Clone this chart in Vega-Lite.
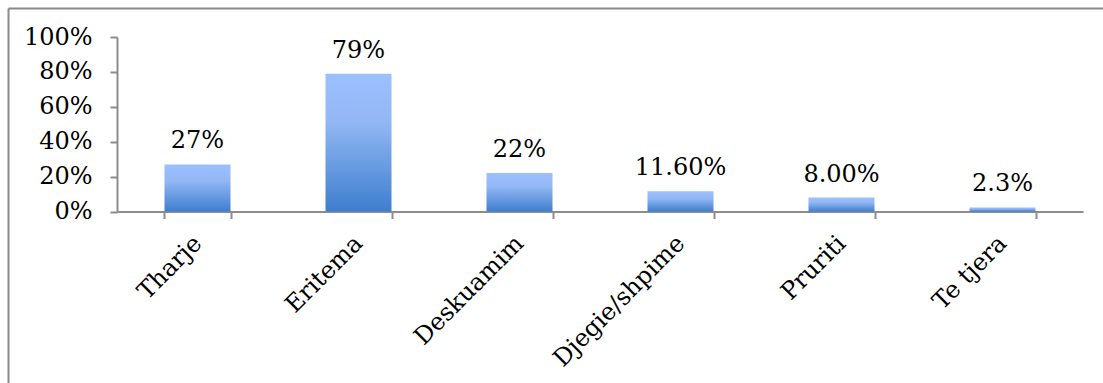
{
  "$schema": "https://vega.github.io/schema/vega-lite/v6.json",
  "width": 1095,
  "height": 375,
  "autosize": {"type": "none"},
  "padding": {"left": 8, "top": 8, "right": 0, "bottom": 0},
  "background": "white",
  "config": {
    "view": {"stroke": null},
    "font": "DejaVu Serif"
  },
  "data": {
    "values": [
      {"simptoma": "Tharje", "pct": 0.27, "label": "27%"},
      {"simptoma": "Eritema", "pct": 0.79, "label": "79%"},
      {"simptoma": "Deskuamim", "pct": 0.22, "label": "22%"},
      {"simptoma": "Djegie/shpime", "pct": 0.116, "label": "11.60%"},
      {"simptoma": "Pruriti", "pct": 0.08, "label": "8.00%"},
      {"simptoma": "Te tjera", "pct": 0.023, "label": "2.3%"}
    ]
  },
  "resolve": {
    "scale": {"x": "independent", "y": "independent"},
    "axis": {"x": "independent", "y": "independent"}
  },
  "layer": [
    {
      "layer": [
        {
          "mark": {
            "type": "bar",
            "color": {
              "gradient": "linear",
              "x1": 0, "y1": 0, "x2": 0, "y2": 1,
              "stops": [
                {"offset": 0, "color": "#9cc0fd"},
                {"offset": 0.35, "color": "#92b7f4"},
                {"offset": 1, "color": "#3e7ece"}
              ]
            }
          },
          "encoding": {
            "x": {
              "field": "simptoma",
              "type": "nominal",
              "sort": null,
              "scale": {"range": [109, 1075], "paddingInner": 0.59, "paddingOuter": 0.295},
              "axis": {
                "orient": "bottom",
                "offset": -171.5,
                "title": null,
                "tickBand": "extent",
                "labelAngle": -45,
                "labelAlign": "right",
                "labelBaseline": "middle",
                "labelPadding": 21,
                "labelFont": "DejaVu Serif",
                "labelFontSize": 24,
                "labelColor": "#000000",
                "domainColor": "#8c8c8c",
                "domainWidth": 2,
                "tickColor": "#8c8c8c",
                "tickWidth": 2,
                "tickSize": 7,
                "grid": false
              }
            },
            "y": {
              "field": "pct",
              "type": "quantitative",
              "scale": {"domain": [0, 1], "range": [203.5, 29], "nice": false, "zero": true},
              "axis": {
                "orient": "left",
                "offset": -109,
                "title": null,
                "values": [0, 0.2, 0.4, 0.6, 0.8, 1],
                "format": ".0%",
                "labelFont": "DejaVu Serif",
                "labelFontSize": 24,
                "labelColor": "#000000",
                "labelPadding": 18,
                "domainColor": "#8c8c8c",
                "domainWidth": 2,
                "tickColor": "#8c8c8c",
                "tickWidth": 2,
                "tickSize": 7,
                "grid": false
              }
            }
          }
        },
        {
          "mark": {"type": "text", "baseline": "alphabetic", "dy": -16, "fontSize": 24, "font": "DejaVu Serif", "color": "#000000"},
          "encoding": {
            "x": {"field": "simptoma", "type": "nominal", "sort": null},
            "y": {"field": "pct", "type": "quantitative"},
            "text": {"field": "label"}
          }
        }
      ]
    },
    {
      "mark": {"type": "point", "opacity": 0},
      "encoding": {
        "x": {
          "field": "pct",
          "type": "quantitative",
          "axis": {"orient": "top", "title": null, "labels": false, "ticks": false, "grid": false, "domainColor": "#8a8a8a", "domainWidth": 2}
        },
        "y": {
          "field": "pct",
          "type": "quantitative",
          "axis": {"orient": "left", "title": null, "labels": false, "ticks": false, "grid": false, "domainColor": "#8a8a8a", "domainWidth": 2}
        }
      }
    }
  ]
}
